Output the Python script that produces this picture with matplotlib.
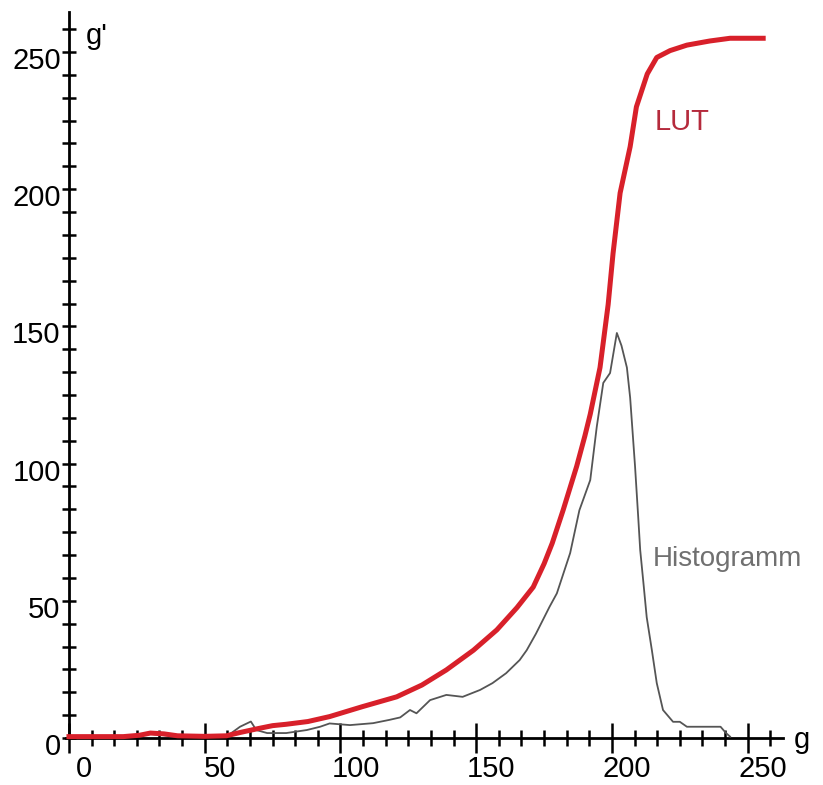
import matplotlib
matplotlib.use('Agg')
import matplotlib.pyplot as plt
import matplotlib.transforms as mtransforms
import numpy as np

plt.rcParams['font.family'] = ['Liberation Sans', 'DejaVu Sans']

# LUT (red curve)
lut_x = [0, 10, 20, 26, 30, 35, 40, 50, 58, 63, 70, 75, 80, 88, 96, 108, 120.7, 130,
         139, 149, 157.6, 165, 171, 175, 178, 182, 187, 190, 192, 195.6, 198.6,
         200.4, 203, 206.7, 209, 213, 216.5, 221.4, 227.6, 236, 243.5, 255.7]
lut_y = [0.5, 0.5, 0.5, 1.0, 1.8, 1.5, 0.8, 0.6, 0.8, 2.0, 3.5, 4.5, 5.0, 6.0, 7.8,
         11.4, 15, 19.3, 24.8, 32, 39.4, 47.5, 55, 63.5, 71, 83, 99, 110, 118,
         135, 158, 176.6, 198.6, 215.5, 230, 242, 248, 250.5, 252.5, 254, 255, 255]

# Histogramm (grey curve)
hist_x = [0, 10, 20, 26, 30, 35, 40, 50, 58, 63, 67, 69, 73, 80, 87.6, 92.5, 96,
          103.5, 112, 118, 122, 125.6, 128, 133, 139, 145, 151.4, 156, 161, 166,
          168.6, 172, 177, 179.7, 184.6, 188, 192, 194.4, 196.8, 199.3, 201.8,
          203.5, 205.5, 206.7, 208.5, 209.7, 210.4, 211.6, 212.8, 214.7, 216.5,
          218.8, 222.5, 225, 227.6, 232.5, 240, 242, 243.5]
hist_y = [0.5, 0.5, 0.5, 1.2, 1.5, 1.0, 0.5, 0.5, 0.5, 4.1, 6.0, 2.9, 1.8, 1.8,
          2.9, 4.1, 5.3, 4.7, 5.4, 6.6, 7.5, 10.2, 9.0, 13.8, 15.7, 15.0, 17.5,
          20.0, 23.6, 28.4, 32.0, 38.0, 47.8, 52.7, 67.4, 83.0, 94.0, 113.4, 129.4,
          133.0, 147.6, 143, 135, 124, 99, 80, 68.5, 56.4, 44, 32, 20, 10.2, 5.9,
          5.9, 4.1, 4.1, 4.1, 1.8, 0.5]

major_ticks = [0, 50, 100, 150, 200, 250]
minor_ticks = np.arange(0, 259, 50 / 6)

fig = plt.figure(figsize=(8.23, 7.85), dpi=100)
ax = fig.add_axes([0.0673, 0.0424, 0.9072, 0.9543])
ax.set_xlim(-5, 270)
ax.set_ylim(-5, 268)

ax.plot(hist_x, hist_y, color='#555555', lw=1.3, zorder=3)
ax.plot(lut_x, lut_y, color='#d8202a', lw=3.6, zorder=4)

# axes through the origin
for s in ['top', 'right']:
    ax.spines[s].set_visible(False)
ax.spines['left'].set_position(('data', 0))
ax.spines['bottom'].set_position(('data', 0))
ax.spines['left'].set_bounds(0, 264.5)
ax.spines['bottom'].set_bounds(-1, 263)
for s in ['left', 'bottom']:
    ax.spines[s].set_linewidth(2.0)
    ax.spines[s].set_zorder(2)

ax.set_xticks(major_ticks)
ax.set_yticks(major_ticks)
ax.set_xticks(minor_ticks, minor=True)
ax.set_yticks(minor_ticks, minor=True)
ax.set_xticklabels([str(t) for t in major_ticks])
ax.set_yticklabels([str(t) for t in major_ticks])

ax.tick_params(axis='x', which='major', direction='inout', length=21, width=1.8,
               labelsize=21, pad=2)
ax.tick_params(axis='x', which='minor', direction='inout', length=12, width=1.8)
ax.tick_params(axis='y', which='both', direction='inout', length=10, width=1.8,
               labelsize=21, pad=1)

# labels sit a little off their ticks, as in the original
dx = mtransforms.ScaledTranslation(15 / 100, 0, fig.dpi_scale_trans)
for lab in ax.get_xticklabels():
    lab.set_transform(lab.get_transform() + dx)
dy = mtransforms.ScaledTranslation(0, -6 / 100, fig.dpi_scale_trans)
for lab in ax.get_yticklabels():
    lab.set_transform(lab.get_transform() + dy)

ax.text(6, 256, "g'", fontsize=21, ha='left', va='center', clip_on=False)
ax.text(267, -3.6, 'g', fontsize=21, ha='left', va='baseline', clip_on=False)
ax.text(215.8, 221.6, 'LUT', fontsize=21, color='#b52a3c', ha='left', va='baseline')
ax.text(215.1, 62.7, 'Histogramm', fontsize=20, color='#707070', ha='left',
        va='baseline', clip_on=False)

fig.savefig('out.png', dpi=100)
